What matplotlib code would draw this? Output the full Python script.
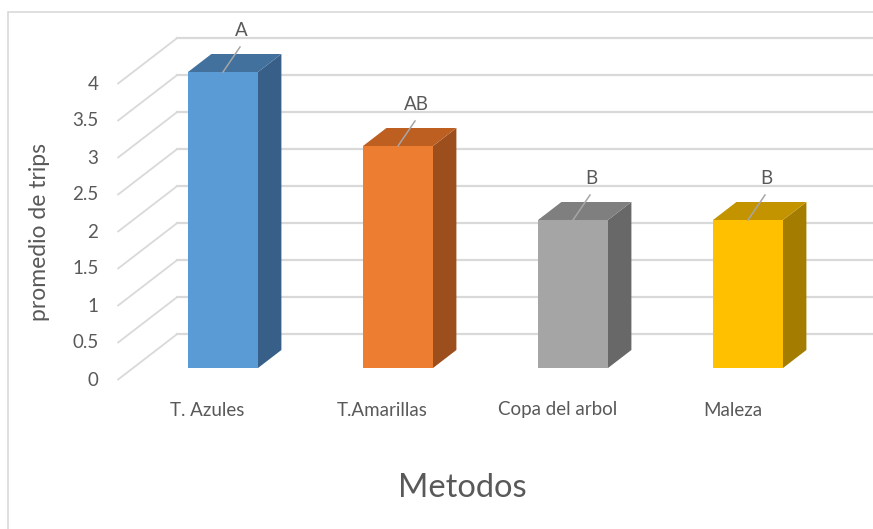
import numpy as np
import matplotlib.pyplot as plt
from matplotlib.patches import Polygon, Rectangle

categories = ["T. Azules", "T.Amarillas", "Copa del arbol", "Maleza"]
promedio = [4, 3, 2, 2]
letras = ["A", "AB", "B", "B"]
yticks = [0, 0.5, 1, 1.5, 2, 2.5, 3, 3.5, 4]

front_col = ["#5B9BD5", "#ED7D31", "#A5A5A5", "#FFC000"]
top_col = ["#41719C", "#BE5F22", "#7F7F7F", "#C49400"]
side_col = ["#385F88", "#9C4F1C", "#686868", "#A47D00"]

plt.rcParams['font.family'] = ['Lato', 'DejaVu Sans']
TXT = "#595959"
GRID = "#D9D9D9"

W, H = 873, 529
PXX, PXY = 175.0, 74.0   # px per category / px per unit of value

fig = plt.figure(figsize=(W / 100, H / 100), dpi=100)
ax = fig.add_axes([0, 0, 1, 1])
ax.set_xlim(-223 / PXX, (W - 223) / PXX)
ax.set_ylim(-161 / PXY, (H - 161) / PXY)
ax.axis('off')


def shift(d):
  # oblique depth offset, d in pixels (vertical component)
  return 1.3 * d / PXX, d / PXY


fx, fy = shift(-12)   # front edge of floor
bx, by = shift(34)    # back wall
dx, dy = shift(18)    # bar depth
wl = -0.514           # left edge of walls
bw = 0.4

# gridlines on the walls
for v in yticks:
  ax.plot([wl + fx, wl + bx], [v + fy, v + by], color=GRID, lw=1.3, zorder=1,
          solid_capstyle='butt')
  ax.plot([wl + bx, 4.5], [v + by, v + by], color=GRID, lw=1.6, zorder=1)
  ax.text(wl + fx - 19 / PXX, v + fy, f"{v:g}", ha='right', va='center',
          fontsize=13.5, color=TXT)

# 3d columns
for i, v in enumerate(promedio):
  x0, x1 = i - bw / 2, i + bw / 2
  ax.add_patch(Polygon([(x1, 0), (x1 + dx, dy), (x1 + dx, v + dy), (x1, v)],
                       closed=True, fc=side_col[i], ec='none', zorder=3))
  ax.add_patch(Polygon([(x0, v), (x1, v), (x1 + dx, v + dy), (x0 + dx, v + dy)],
                       closed=True, fc=top_col[i], ec='none', zorder=3))
  ax.add_patch(Rectangle((x0, 0), bw, v, fc=front_col[i], ec='none', zorder=4))
  # letter labels with leader lines
  ax.plot([i, i + 17 / PXX], [v, v + 25 / PXY], color="#A6A6A6", lw=1.1, zorder=5)
  ax.text(i + 18 / PXX, v + 42 / PXY, letras[i], ha='center', va='center',
          fontsize=13.5, color=TXT, zorder=5)
  ax.text(i + fx, fy - 30 / PXY, categories[i], ha='center', va='center',
          fontsize=13.5, color=TXT)

fig.text(40 / W, 1 - 232 / H, "promedio de trips", rotation=90, ha='center',
         va='center', fontsize=16.5, color=TXT)
fig.text(462 / W, 1 - 488 / H, "Metodos", ha='center', va='center',
         fontsize=23.5, color=TXT)

fig.add_artist(Rectangle((8 / W, -0.02), 1.5, 1.02 - 12 / H, transform=fig.transFigure,
                         fill=False, ec=GRID, lw=1.2))

fig.savefig("out.png", dpi=100)
